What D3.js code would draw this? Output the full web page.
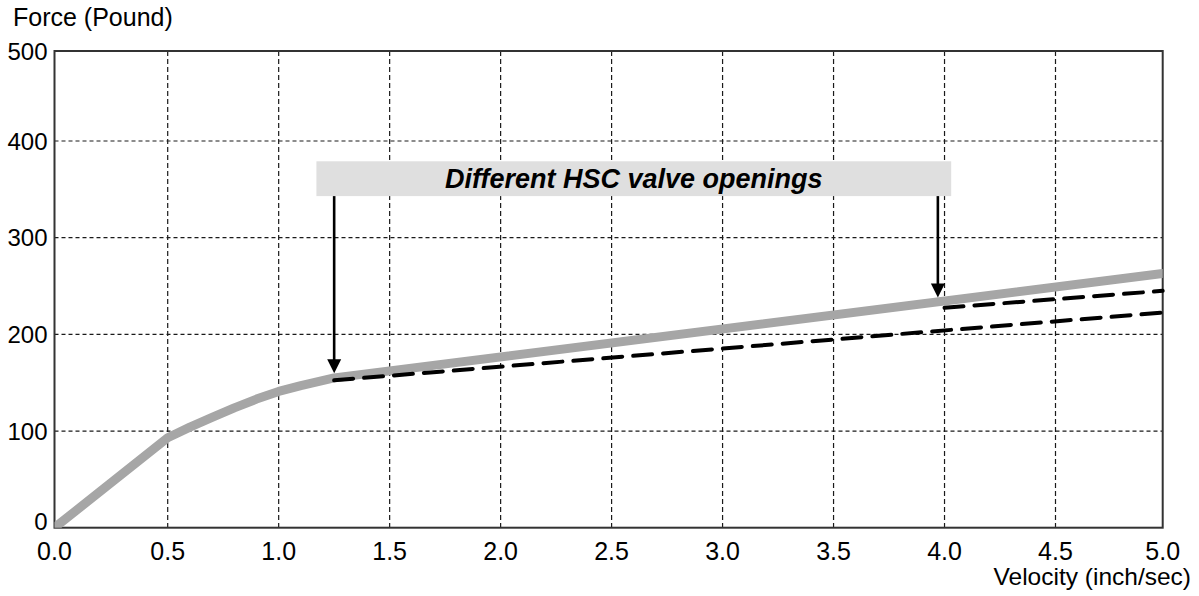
<!DOCTYPE html>
<html>
<head>
<meta charset="utf-8">
<script src="https://cdn.jsdelivr.net/npm/d3@7"></script>
<style>
  body { margin: 0; background: #fff; }
  svg { display: block; font-family: "Liberation Sans", Arial, sans-serif; }
</style>
</head>
<body>
<div id="chart"></div>
<script>
// donnees
const xTicks = [0, 0.5, 1.0, 1.5, 2.0, 2.5, 3.0, 3.5, 4.0, 4.5, 5.0];
const yTicks = [0, 100, 200, 300, 400, 500];

// courbe grise (reglage de base)
const baseV = [0, 0.5, 0.6, 0.7, 0.8, 0.9, 1.0, 1.1, 1.25, 5.0];
const baseF = [0, 93, 104, 114, 124, 133, 141, 147, 155, 263];

// pointilles : autres ouvertures de vanne
const lowV = [1.25, 5.0];
const lowF = [152.5, 222.5];
const highV = [4.0, 5.0];
const highF = [227.5, 245];

// annotation
const noteText = "Different HSC valve openings";
const noteBoxV = [1.17, 4.03];
const noteBoxF = [343, 379];
const arrowV = [1.25, 3.97];

const W = 1199, H = 596;
const svg = d3.select("#chart").append("svg").attr("width", W).attr("height", H);

// echelles (le dessin d'origine n'est pas tout a fait regulier)
const x = d3.scaleLinear().domain([0, 0.5, 4.5, 5]).range([54.5, 167.7, 1055.5, 1162.7]);
const y = d3.scaleLinear().domain([0, 400, 500]).range([527.7, 141, 51]);

const x0 = x(0), x1 = x(5), y0 = y(0), y1 = y(500);

svg.append("clipPath").attr("id", "clip")
  .append("rect").attr("x", x0).attr("y", y1).attr("width", x1 - x0).attr("height", y0 - y1);

// grille
svg.append("g").selectAll("line").data(xTicks.filter(d => d > 0 && d < 5)).join("line")
  .attr("x1", d => x(d)).attr("x2", d => x(d)).attr("y1", y1).attr("y2", y0)
  .attr("stroke", "#1a1a1a").attr("stroke-width", 1.2).attr("stroke-dasharray", "5,3");
svg.append("g").selectAll("line").data(yTicks.filter(d => d > 0 && d < 500)).join("line")
  .attr("x1", x0).attr("x2", x1).attr("y1", d => y(d)).attr("y2", d => y(d))
  .attr("stroke", "#1a1a1a").attr("stroke-width", 1.2).attr("stroke-dasharray", "4,3");

// cadre
svg.append("rect").attr("x", x0).attr("y", y1).attr("width", x1 - x0).attr("height", y0 - y1)
  .attr("fill", "none").attr("stroke", "#333").attr("stroke-width", 2);

// labels des axes
svg.append("g").selectAll("text").data(yTicks).join("text")
  .attr("x", 47.5)
  .attr("y", d => y(d) + 8.5 - (d === 0 ? 6 : 0))
  .attr("text-anchor", "end").attr("font-size", 24).attr("fill", "#000")
  .text(d => d);
svg.append("g").selectAll("text").data(xTicks).join("text")
  .attr("x", d => x(d)).attr("y", 560)
  .attr("text-anchor", "middle").attr("font-size", 25).attr("fill", "#000")
  .text(d => d.toFixed(1));

svg.append("text").attr("x", 13).attr("y", 26).attr("font-size", 25).text("Force (Pound)");
svg.append("text").attr("x", 1191).attr("y", 585).attr("text-anchor", "end")
  .attr("font-size", 24.5).text("Velocity (inch/sec)");

// courbes
const line = d3.line().x(d => x(d[0])).y(d => y(d[1]));

svg.append("path").datum(d3.zip(baseV, baseF))
  .attr("clip-path", "url(#clip)")
  .attr("d", line).attr("fill", "none")
  .attr("stroke", "#a6a6a6").attr("stroke-width", 9)
  .attr("stroke-linecap", "round").attr("stroke-linejoin", "round");

[[lowV, lowF], [highV, highF]].forEach(s => {
  svg.append("path").datum(d3.zip(s[0], s[1]))
    .attr("d", line).attr("fill", "none")
    .attr("stroke", "#000").attr("stroke-width", 4)
    .attr("stroke-dasharray", "19,11").attr("stroke-linecap", "round");
});

// boite + texte
const bx = x(noteBoxV[0]), bw = x(noteBoxV[1]) - bx;
const by = y(noteBoxF[1]), bh = y(noteBoxF[0]) - by;
svg.append("rect").attr("x", bx).attr("y", by).attr("width", bw).attr("height", bh)
  .attr("fill", "#dfdfdf");
svg.append("text").attr("x", bx + bw / 2).attr("y", by + bh / 2 + 9.5)
  .attr("text-anchor", "middle").attr("font-size", 27)
  .attr("font-weight", "bold").attr("font-style", "italic").text(noteText);

// fleches
const baseAt = d3.scaleLinear().domain(baseV).range(baseF);
arrowV.forEach(v => {
  const ax = x(v);
  const tip = y(baseAt(v)) - 4.5;
  svg.append("line").attr("x1", ax).attr("x2", ax).attr("y1", by + bh).attr("y2", tip - 10)
    .attr("stroke", "#000").attr("stroke-width", 2.6);
  svg.append("path")
    .attr("d", `M${ax - 7},${tip - 14} L${ax + 7},${tip - 14} L${ax},${tip} Z`)
    .attr("fill", "#000");
});
</script>
</body>
</html>
